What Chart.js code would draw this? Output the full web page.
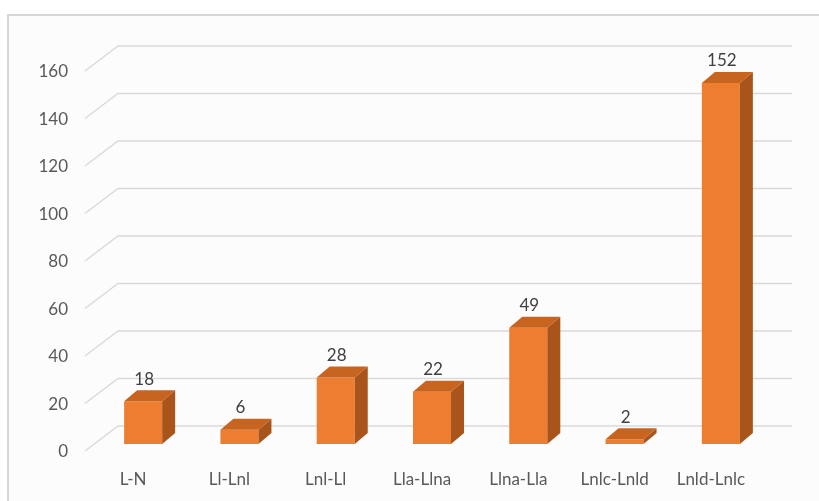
<!DOCTYPE html>
<html>
<head>
<meta charset="utf-8">
<script src="https://cdn.jsdelivr.net/npm/chart.js@4.4.1/dist/chart.umd.min.js"></script>
<style>
  html, body { margin: 0; padding: 0; background: #ffffff; }
  #wrap { position: relative; width: 819px; height: 501px; }
</style>
</head>
<body>
<div id="wrap"><canvas id="myChart" width="819" height="501"></canvas></div>
<script>
'use strict';
// категории и значения
const categories = ['L-N', 'Ll-Lnl', 'Lnl-Ll', 'Lla-Llna', 'Llna-Lla', 'Lnlc-Lnld', 'Lnld-Lnlc'];
const values = [18, 6, 28, 22, 49, 2, 152];
// подписи оси Y
const yTicks = [0, 20, 40, 60, 80, 100, 120, 140, 160];

// смещения "глубины" для псевдо-3D
const FRONT = { x: -10, y: 7 };   // передняя плоскость (подписи осей)
const BACK = { x: 23, y: -18 };   // задняя стенка (сетка)
const DEPTH = { x: 13, y: -11 };  // глубина самого столбика

const colors = {
  front: '#ED7D31',
  side: '#A9541B',
  top: '#C76420',
  grid: '#d9d9d9',
  text: '#595959',
  value: '#404040'
};

// рамка и фон
const framePlugin = {
  id: 'frame',
  beforeDraw(chart) {
    const ctx = chart.ctx;
    ctx.save();
    ctx.fillStyle = '#ffffff';
    ctx.fillRect(0, 0, chart.width, chart.height);
    ctx.fillStyle = '#fcfcfc';
    ctx.fillRect(8, 15, chart.width, chart.height);
    ctx.strokeStyle = '#d6d6d6';
    ctx.lineWidth = 2;
    ctx.strokeRect(8, 15, chart.width + 10, chart.height + 10);
    ctx.restore();
  }
};

// сетка: диагональ на боковой стенке + линия на задней стенке
const wallGrid = {
  id: 'wallGrid',
  beforeDatasetsDraw(chart) {
    const ctx = chart.ctx;
    const y = chart.scales.y;
    const area = chart.chartArea;
    ctx.save();
    ctx.strokeStyle = colors.grid;
    ctx.lineWidth = 1.3;
    yTicks.forEach(v => {
      const py = y.getPixelForValue(v);
      ctx.beginPath();
      ctx.moveTo(area.left + FRONT.x, py + FRONT.y);
      ctx.lineTo(area.left + BACK.x, py + BACK.y);
      ctx.lineTo(area.right + BACK.x, py + BACK.y);
      ctx.stroke();
    });
    ctx.restore();
  }
};

// боковая и верхняя грани + подписи значений
const bars3d = {
  id: 'bars3d',
  afterDatasetsDraw(chart) {
    const ctx = chart.ctx;
    const meta = chart.getDatasetMeta(0);
    ctx.save();
    meta.data.forEach((bar, i) => {
      const p = bar.getProps(['x', 'y', 'base', 'width'], true);
      const l = p.x - p.width / 2;
      const r = p.x + p.width / 2;
      const t = p.y;
      const b = p.base;

      // боковая грань
      ctx.fillStyle = colors.side;
      ctx.beginPath();
      ctx.moveTo(r, t);
      ctx.lineTo(r + DEPTH.x, t + DEPTH.y);
      ctx.lineTo(r + DEPTH.x, b + DEPTH.y);
      ctx.lineTo(r, b);
      ctx.closePath();
      ctx.fill();

      // верхняя грань
      ctx.fillStyle = colors.top;
      ctx.beginPath();
      ctx.moveTo(l, t);
      ctx.lineTo(l + DEPTH.x, t + DEPTH.y);
      ctx.lineTo(r + DEPTH.x, t + DEPTH.y);
      ctx.lineTo(r, t);
      ctx.closePath();
      ctx.fill();

      // значение над столбиком
      ctx.fillStyle = colors.value;
      ctx.font = '17px Lato';
      ctx.textAlign = 'center';
      ctx.textBaseline = 'middle';
      ctx.fillText(String(values[i]), p.x + 1, t - 22);
    });
    ctx.restore();
  }
};

const ctx = document.getElementById('myChart').getContext('2d');
const chart = new Chart(ctx, {
  type: 'bar',
  data: {
    labels: categories,
    datasets: [{
      data: values,
      backgroundColor: colors.front,
      borderWidth: 0,
      categoryPercentage: 1,
      barPercentage: 0.395
    }]
  },
  options: {
    responsive: false,
    animation: false,
    events: [],
    layout: {
      padding: { left: 0, top: 64, right: 50, bottom: 0 }
    },
    plugins: {
      legend: { display: false },
      tooltip: { enabled: false }
    },
    scales: {
      x: {
        grid: { display: false, drawTicks: false },
        border: { display: false },
        ticks: {
          color: colors.text,
          font: { family: 'Lato', size: 17 },
          padding: 25,
          labelOffset: FRONT.x,
          maxRotation: 0
        },
        afterFit(scale) { scale.height = 57; }
      },
      y: {
        min: 0,
        max: 160,
        grid: { display: false, drawTicks: false },
        border: { display: false },
        afterBuildTicks(scale) {
          scale.ticks = yTicks.map(v => ({ value: v }));
        },
        ticks: {
          color: colors.text,
          font: { family: 'Lato', size: 17 },
          padding: 27,
          labelOffset: 8
        },
        afterFit(scale) { scale.width = 95; }
      }
    }
  },
  plugins: [framePlugin, wallGrid, bars3d]
});
</script>
</body>
</html>
